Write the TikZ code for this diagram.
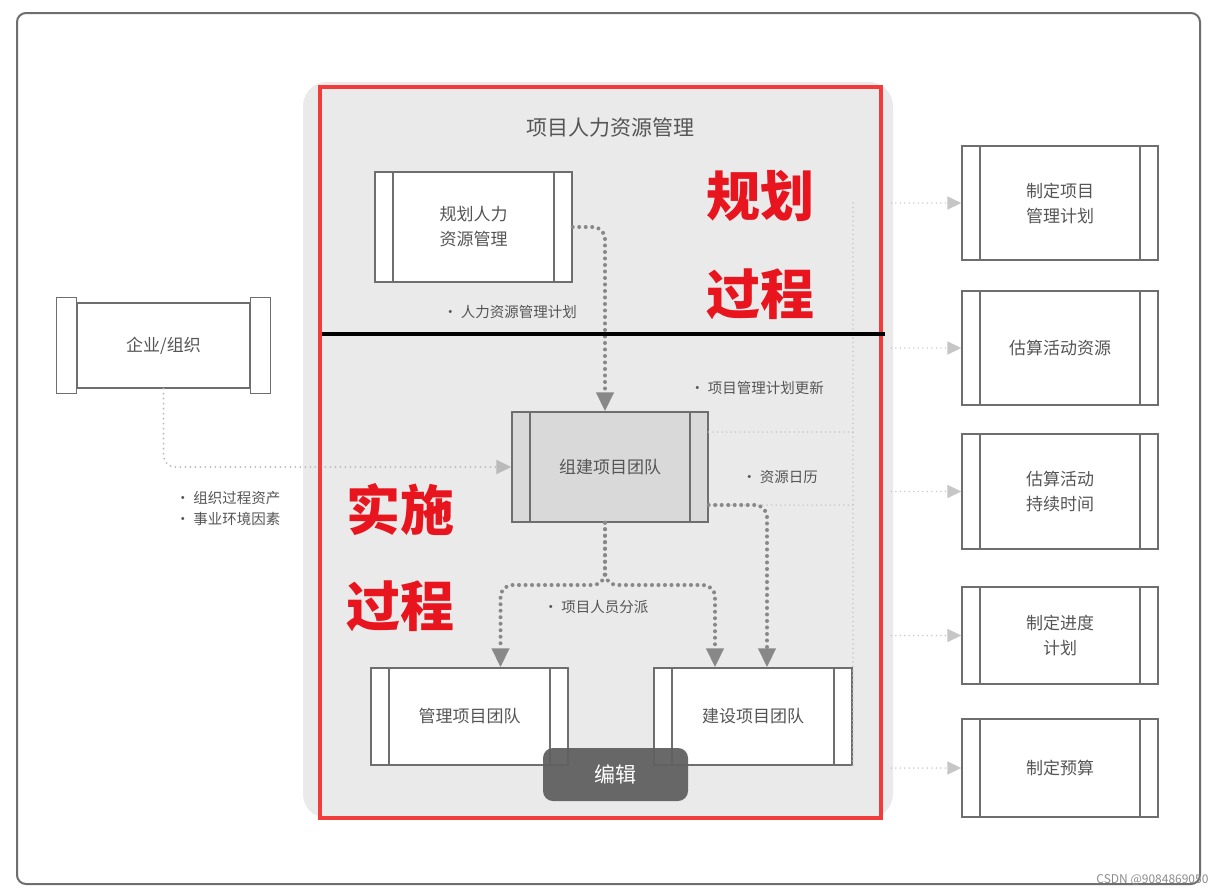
\documentclass[tikz,border=0pt]{standalone}
\usepackage{fontspec}
\setmainfont{Noto Sans CJK SC}
\usepackage{tikz}
\usetikzlibrary{positioning,arrows.meta,calc}
\usepackage{xcolor}
\definecolor{LineGray}{HTML}{6E6E6E}
\definecolor{TextGray}{HTML}{555555}
\definecolor{FlowGray}{HTML}{888888}
\definecolor{FaintGray}{HTML}{C6C6C6}
\definecolor{ShadeGray}{HTML}{EAEAEA}
\definecolor{AcqFill}{HTML}{D9D9D9}
\definecolor{FrameRed}{HTML}{F23B3B}
\definecolor{TagRed}{HTML}{E8141E}
\tikzset{
  proc/.style={draw=LineGray,line width=1.4pt,fill=white,inner sep=0pt,align=center,
    font=\fontsize{17}{25}\selectfont,text=TextGray,
    path picture={\draw[LineGray,line width=1.4pt]
      ([xshift=18pt]path picture bounding box.north west) -- ([xshift=18pt]path picture bounding box.south west)
      ([xshift=-18pt]path picture bounding box.north east) -- ([xshift=-18pt]path picture bounding box.south east);}},
  flow/.style={FlowGray,line width=4pt,line cap=round,dash pattern=on 0pt off 6.5pt,rounded corners=12pt,
    -{Triangle[width=17pt,length=19pt]}},
  softflow/.style={FaintGray!80!FlowGray,line width=2pt,line cap=round,dash pattern=on 0pt off 5pt,rounded corners=12pt,
    -{Triangle[width=14pt,length=15pt]}},
  faint/.style={FaintGray,line width=1.6pt,line cap=round,dash pattern=on 0pt off 4.5pt},
  tag/.style={font=\fontsize{14.5}{21}\selectfont,text=TextGray,align=left},
  bigred/.style={text=TagRed,font=\fontsize{54}{60}\selectfont\bfseries}
}
\begin{document}
\begin{tikzpicture}[x=1pt,y=-1pt]
\useasboundingbox (0,0) rectangle (1221,895);
\fill[white] (0,0) rectangle (1221,895);
\draw[LineGray,line width=2pt,rounded corners=9pt] (17,13) rectangle (1200,884);
\fill[ShadeGray,rounded corners=24pt] (303,82) rectangle (893,818);
\node[font=\fontsize{21}{25}\selectfont,text=TextGray] (title) at (610,128) {项目人力资源管理};

% process boxes
\node[proc,minimum width=197pt,minimum height=110pt] (plan) at (473.5,227) {规划人力\\资源管理};
\node[proc,fill=AcqFill,minimum width=196pt,minimum height=110pt] (acquire) at (610,467) {组建项目团队};
\node[proc,minimum width=197pt,minimum height=97pt] (manage) at (469.5,716.5) {管理项目团队};
\node[proc,minimum width=198pt,minimum height=97pt] (develop) at (753,716.5) {建设项目团队};
\node[proc,minimum width=196pt,minimum height=114pt] (pmplan) at (1060,203) {制定项目\\管理计划};
\node[proc,minimum width=196pt,minimum height=114pt] (actres) at (1060,348) {估算活动资源};
\node[proc,minimum width=196pt,minimum height=115pt] (actdur) at (1060,491.5) {估算活动\\持续时间};
\node[proc,minimum width=196pt,minimum height=97pt] (sched) at (1060,635.5) {制定进度\\计划};
\node[proc,minimum width=196pt,minimum height=98pt] (budget) at (1060,768) {制定预算};

% enterprise scroll
\node[draw=LineGray,line width=1.4pt,fill=white,minimum width=173pt,minimum height=85pt,
  font=\fontsize{17}{25}\selectfont,text=TextGray] (org) at (163.5,345.5) {企业/组织};
\draw[LineGray,line width=1.4pt,fill=white] ([yshift=5pt]org.north west) rectangle ([xshift=-20pt,yshift=-5pt]org.south west);
\draw[LineGray,line width=1.4pt,fill=white] ([yshift=5pt]org.north east) rectangle ([xshift=20pt,yshift=-5pt]org.south east);

% faint outputs to other areas
\coordinate (busTop) at (853,203);
\coordinate (busBot) at (853,770);
\coordinate (upd) at ([yshift=35pt]acquire.east);
\coordinate (cal) at ([yshift=-38pt]acquire.east);
\draw[faint] (busTop) -- (busBot);
\draw[faint] (upd) -- (upd -| busTop);
\draw[faint] (cal) -- (cal -| busTop);
\foreach \b in {pmplan,actres,actdur,sched,budget}
  \draw[faint,-{Triangle[width=13pt,length=14pt]}] ([xshift=-70pt]\b.west) -- (\b.west);

% flows
\coordinate (fork) at (605,585);
\draw[flow] (plan.east) -| ([xshift=-5pt]acquire.north);
\draw[softflow] (org.south) |- (acquire.west);
\draw[flow] (acquire.south -| fork) -- (fork) -| ([xshift=31pt]manage.north);
\draw[flow] (acquire.south -| fork) -- (fork) -| ([xshift=-38pt]develop.north);
\draw[flow] (cal) -| ([xshift=14pt]develop.north);

\node[tag] (planout) at (510,312) {• 人力资源管理计划};
\node[tag] (updout) at (757,388) {• 项目管理计划更新};
\node[tag] (calout) at (780,477) {• 资源日历};
\node[tag] (assign) at (596,607) {• 项目人员分派};
\node[tag,anchor=west] (orgin) at (172,508) {• 组织过程资产\\• 事业环境因素};

% annotations
\draw[FrameRed,line width=4pt] (320,87) rectangle (881,818);
\draw[black,line width=3.5pt] (322,334) -- (885,334);
\node[bigred] (planA) at (760,196) {规划};
\node[bigred] (planB) at (760,294) {过程};
\node[bigred] (execA) at (400,510) {实施};
\node[bigred] (execB) at (400,606) {过程};
\node[fill=black!62,fill opacity=0.95,text opacity=1,rounded corners=10pt,minimum width=145pt,minimum height=53pt,
  text=white,font=\fontsize{21}{25}\selectfont] (edit) at (615.5,774.5) {编辑};
\node[anchor=east,text=black!45,font=\fontsize{12}{14}\selectfont] (mark) at (1212,880) {CSDN @9084869050};
\end{tikzpicture}
\end{document}
